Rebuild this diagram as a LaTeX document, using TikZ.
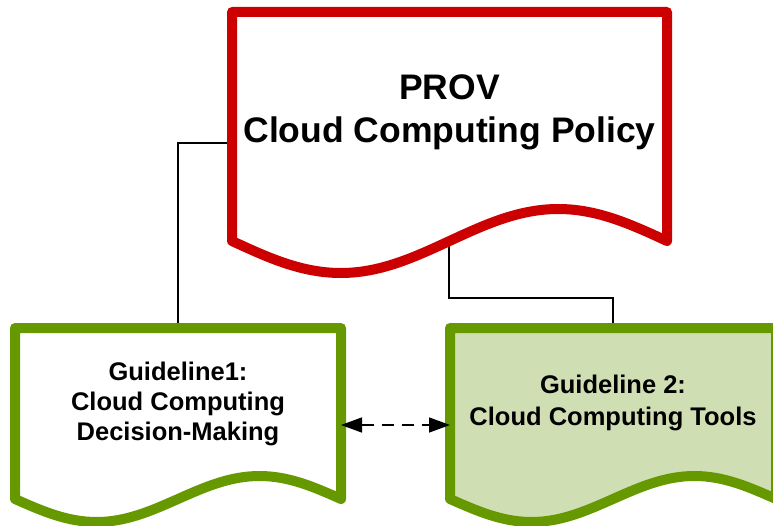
\documentclass[tikz,border=0pt]{standalone}
\usepackage{fontspec}
\setmainfont{Liberation Sans}
\usetikzlibrary{arrows.meta}
\definecolor{policyred}{HTML}{CC0000}
\definecolor{guidegreen}{HTML}{669900}
\definecolor{guidefill}{HTML}{D0DFB3}
% document outline: left x, top y, width, corner y, wave amplitude
\newcommand\docoutline[5]{(#1,#4) -- (#1,#2) -- ({#1+#3},#2) -- ({#1+#3},#4)
  sin ({#1+0.75*#3},{#4-#5}) cos ({#1+0.5*#3},#4)
  sin ({#1+0.25*#3},{#4+#5}) cos (#1,#4) -- cycle}
\begin{document}
\begin{tikzpicture}[x=1pt,y=-1pt,
  docframe/.style={line width=10pt, line join=round},
  policydoc/.style={docframe, draw=policyred, fill=white},
  guidedoc/.style={docframe, draw=guidegreen},
  link/.style={line width=1.4pt, draw=black},
  peerlink/.style={line width=1.5pt, dash pattern=on 12pt off 8pt,
    {Triangle[length=21pt,width=15pt]}-{Triangle[length=21pt,width=15pt]}},
  bigtext/.style={font=\bfseries\fontsize{35.5}{43}\selectfont, align=center, inner sep=0pt},
  smalltext/.style={font=\bfseries\fontsize{25.5}{30}\selectfont, align=center, inner sep=0pt}]
\useasboundingbox (0,0) rectangle (773,526);
\clip (0,0) rectangle (773,526);

% anchor points on the document outlines
\coordinate (pol-west) at (232,143);
\coordinate (pol-south) at (449,245);
\coordinate (bend) at (449,298);
\coordinate (g1-north) at (178,328);
\coordinate (g1-east) at (341,425);
\coordinate (g2-north) at (613,328);
\coordinate (g2-west) at (450,425);

% connectors, drawn beneath the shapes
\draw[link] (g1-north) |- (pol-west);
\draw[link] (pol-south) -- (bend) -| (g2-north);

% documents
\draw[policydoc] \docoutline{232}{12}{435}{241}{32};
\draw[guidedoc, fill=white] \docoutline{15}{328}{326}{499}{23};
\draw[guidedoc, fill=guidefill] \docoutline{450}{328}{326}{499}{23};

\draw[peerlink] (g1-east) -- (g2-west);

% labels
\node[bigtext] (policy) at (449.5,112.5) {PROV\\Cloud Computing Policy};
\node[smalltext] (guide1) at (178,403.5) {Guideline1:\\Cloud Computing\\Decision-Making};
\node[smalltext, font=\bfseries\fontsize{25.5}{32}\selectfont] (guide2) at (613,402.5) {Guideline 2:\\Cloud Computing Tools};
\end{tikzpicture}
\end{document}
